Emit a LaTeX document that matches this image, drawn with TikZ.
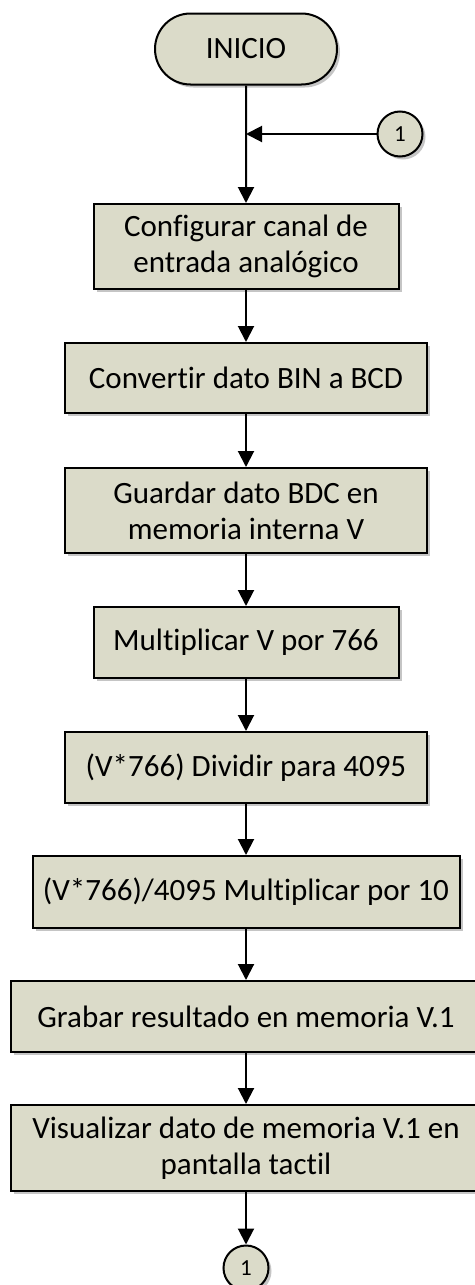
\documentclass[tikz,border=0pt]{standalone}
\usepackage{fontspec}
\setmainfont[Ligatures=NoCommon]{Carlito}
\usetikzlibrary{arrows.meta,shapes.misc,shadows}
\definecolor{relleno}{HTML}{DBDBC9}
\tikzset{
  sombra/.style={drop shadow={shadow xshift=1.5pt, shadow yshift=-1.5pt, fill=black!45, opacity=0.5}},
  proceso/.style={draw, line width=1pt, fill=relleno, sombra, inner sep=0pt, align=center,
    font=\fontsize{15.5}{18}\selectfont},
  terminal/.style={proceso, rounded rectangle, minimum width=91pt, minimum height=35.5pt},
  conector/.style={proceso, circle, minimum size=22.5pt, font=\fontsize{11.5}{13}\selectfont},
  flecha/.style={line width=1pt, -{Triangle[width=8pt,length=8pt]}}
}
\begin{document}
\begin{tikzpicture}[x=0.5pt, y=-0.5pt]
            \useasboundingbox (0,0) rectangle (475,1285);
            \node[terminal] (inicio) at (246,49) {INICIO};
            \node[conector] (con1) at (400,134) {1};
            \coordinate (union) at (246,134);
            \node[proceso, minimum width=152.5pt, minimum height=42.5pt] (b1) at (246,246.5) {Configurar canal de\\entrada analógico};
            \node[proceso, minimum width=181pt, minimum height=35pt] (b2) at (246,378) {Convertir dato BIN a BCD};
            \node[proceso, minimum width=181pt, minimum height=42.5pt] (b3) at (246,510.5) {Guardar dato BDC en\\memoria interna V};
            \node[proceso, minimum width=152.5pt, minimum height=35.5pt] (b4) at (246,642.5) {Multiplicar V por 766};
            \node[proceso, minimum width=181pt, minimum height=35.5pt] (b5) at (246,767.5) {(V*766) Dividir para 4095};
            \node[proceso, minimum width=213.5pt, minimum height=36pt] (b6) at (246,892) {(V*766)/4095 Multiplicar por 10};
            \node[proceso, minimum width=235pt, minimum height=35.5pt] (b7) at (246,1016.5) {Grabar resultado en memoria V.1};
            \node[proceso, minimum width=235pt, minimum height=43pt] (b8) at (246,1148) {Visualizar dato de memoria V.1 en\\pantalla tactil};
            \node[conector] (con2) at (246,1268) {1};
            \draw[flecha] (inicio) -- (b1);
            \draw[flecha] (con1) -- (union);
            \draw[flecha] (b1) -- (b2);
            \draw[flecha] (b2) -- (b3);
            \draw[flecha] (b3) -- (b4);
            \draw[flecha] (b4) -- (b5);
            \draw[flecha] (b5) -- (b6);
            \draw[flecha] (b6) -- (b7);
            \draw[flecha] (b7) -- (b8);
            \draw[flecha] (b8) -- (con2);
        \end{tikzpicture}
\end{document}
